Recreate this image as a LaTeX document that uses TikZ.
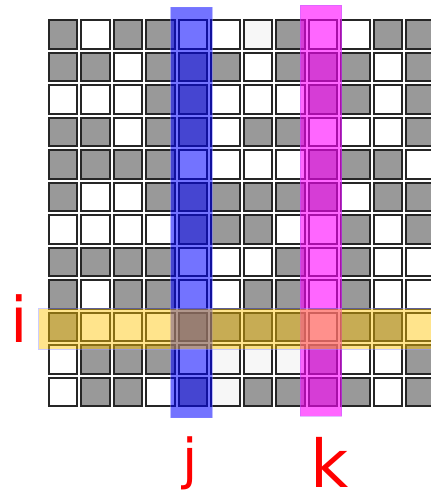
\documentclass[tikz,border=0pt]{standalone}
\usepackage{fontspec}
\setmainfont{DejaVu Sans}
\definecolor{cellgray}{RGB}{153,153,153}
\definecolor{celllight}{RGB}{247,247,247}
\definecolor{barblue}{RGB}{0,0,255}
\definecolor{barmag}{RGB}{255,0,255}
\definecolor{baryel}{RGB}{255,196,0}
\tikzset{
  cellbase/.style={draw=black!85, line width=2pt, minimum size=28.5pt, inner sep=0pt, outer sep=0pt},
  cellG/.style={cellbase, fill=cellgray},
  cellW/.style={cellbase, fill=white},
  cellL/.style={cellbase, fill=celllight},
  barbase/.style={inner sep=0pt, outer sep=0pt, line width=0.8pt},
  bluebar/.style={barbase, fill=barblue, fill opacity=0.55, draw=barblue!50, draw opacity=0.5},
  magbar/.style={barbase, fill=barmag, fill opacity=0.6, draw=barmag!50!blue!60, draw opacity=0.4},
  yelbar/.style={barbase, fill=baryel, fill opacity=0.45, draw=blue!40, draw opacity=0.5},
  lbl/.style={text=red, inner sep=0pt, outer sep=0pt, anchor=base},
}
\begin{document}
\begin{tikzpicture}[x=1pt, y=-1pt]
\useasboundingbox (0,0) rectangle (431,501);
\clip (0,0) rectangle (431,501);
\foreach \rowdata [count=\r from 0] in {
  {G,W,G,G,W,W,L,G,W,W,G,G},
  {G,G,W,G,G,G,W,G,G,G,W,G},
  {W,W,W,G,G,W,W,W,G,G,W,G},
  {G,G,W,G,G,W,G,G,W,W,W,G},
  {G,G,G,G,W,W,W,W,G,G,G,W},
  {G,W,W,G,G,G,G,G,G,W,G,G},
  {W,W,W,W,G,G,G,W,W,G,W,G},
  {G,G,G,G,W,W,W,G,W,G,W,W},
  {G,W,G,G,W,W,G,G,W,G,W,W},
  {G,W,W,W,G,G,G,G,W,G,G,W},
  {W,G,G,G,W,L,L,L,G,W,W,G},
  {W,G,G,W,G,L,G,G,G,G,W,G}} {
  \foreach \t [count=\k from 0] in \rowdata {
    \node[cell\t] (c-\r-\k) at ({62.75+32.5*\k}, {34.25+32.5*\r}) {};
  }
}
% column j, column k, row i
\node[bluebar, minimum width=41.6pt, minimum height=410.5pt] (colj) at (191.5, 212.6) {};
\node[magbar, minimum width=41.7pt, minimum height=410.7pt] (colk) at (320.8, 210.7) {};
\node[yelbar, minimum width=420pt, minimum height=40.6pt, anchor=west] (rowi) at (38.5, 328.8) {};
% labels
\node[lbl, font=\fontsize{63}{63}\selectfont] (li) at (18.8, 342) {i};
\node[lbl, font=\fontsize{55}{55}\selectfont] (lj) at (190.5, 478.6) {j};
\node[lbl, font=\fontsize{66}{66}\selectfont] (lk) at (329.5, 487.3) {k};
\end{tikzpicture}
\end{document}
